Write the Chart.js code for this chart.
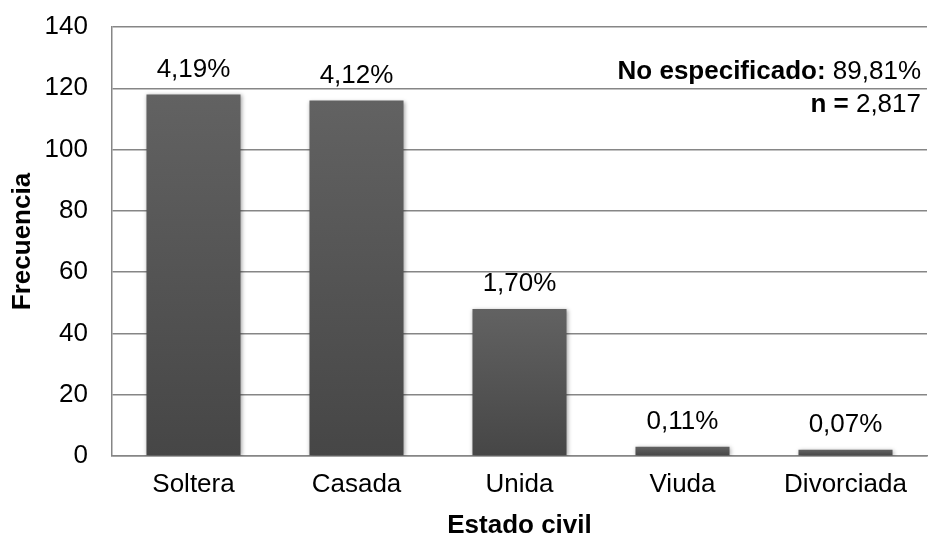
<!DOCTYPE html>
<html>
<head>
<meta charset="utf-8">
<script src="https://cdn.jsdelivr.net/npm/chart.js@4.4.0/dist/chart.umd.min.js"></script>
<style>
  html, body { margin: 0; background: #fff; }
  #contenedor { width: 930px; height: 536px; }
</style>
</head>
<body>
<div id="contenedor"><canvas id="myChart"></canvas></div>
<script>
const categorias = ['Soltera', 'Casada', 'Unida', 'Viuda', 'Divorciada']
const frecuencias = [118, 116, 48, 3, 2]
const porcentajes = ['4,19%', '4,12%', '1,70%', '0,11%', '0,07%']
const notaNoEspecificado = ['No especificado:', '89,81%']
const notaN = ['n =', '2,817']

const fuente = 'Arial, "Liberation Sans", sans-serif'
const colorGrid = '#868686'

// degradado de cada barra: mas claro arriba, mas oscuro abajo
const colorBarra = (ctx) => {
    const chart = ctx.chart
    if (!chart.chartArea || !chart.scales.y) return '#555'
    const yTop = chart.scales.y.getPixelForValue(ctx.raw)
    const yBase = chart.scales.y.getPixelForValue(0)
    const g = chart.ctx.createLinearGradient(0, yTop, 0, yBase)
    g.addColorStop(0, '#626262')
    g.addColorStop(1, '#464646')
    return g
}

// sombra suave de las barras
const sombra = {
    id: 'sombra',
    beforeDatasetsDraw(chart) {
        const c = chart.ctx
        c.save()
        c.shadowColor = 'rgba(0,0,0,0.35)'
        c.shadowBlur = 4
        c.shadowOffsetX = 1
        c.shadowOffsetY = 1
    },
    afterDatasetsDraw(chart) {
        chart.ctx.restore()
    }
}

// porcentajes encima de cada barra
const etiquetas = {
    id: 'etiquetas',
    afterDraw(chart) {
        const c = chart.ctx
        const meta = chart.getDatasetMeta(0)
        c.save()
        c.font = '26px ' + fuente
        c.fillStyle = '#000'
        c.textAlign = 'center'
        c.textBaseline = 'middle'
        meta.data.forEach((bar, i) => {
            c.fillText(porcentajes[i], bar.x, bar.y - 25)
        })
        c.restore()
    }
}

// nota arriba a la derecha
const nota = {
    id: 'nota',
    afterDraw(chart) {
        const c = chart.ctx
        const xDer = 921
        const lineas = [[notaNoEspecificado, 72], [notaN, 105]]
        c.save()
        c.fillStyle = '#000'
        c.textBaseline = 'middle'
        c.textAlign = 'left'
        lineas.forEach(([partes, y]) => {
            c.font = 'bold 26px ' + fuente
            const anchoNegrita = c.measureText(partes[0] + ' ').width
            c.font = '26px ' + fuente
            const anchoNormal = c.measureText(partes[1]).width
            const x0 = xDer - anchoNegrita - anchoNormal
            c.font = 'bold 26px ' + fuente
            c.fillText(partes[0] + ' ', x0, y)
            c.font = '26px ' + fuente
            c.fillText(partes[1], x0 + anchoNegrita, y)
        })
        c.restore()
    }
}

const myChart = document.getElementById('myChart')
new Chart(myChart, {
    type: 'bar',
    data: {
        labels: categorias,
        datasets: [{
            label: 'Frecuencia',
            data: frecuencias,
            backgroundColor: colorBarra,
            borderWidth: 0,
            barPercentage: 0.577,
            categoryPercentage: 1
        }]
    },
    options: {
        responsive: true,
        maintainAspectRatio: false,
        animation: false,
        layout: { padding: { top: 0, right: 3, left: 0, bottom: 0 } },
        plugins: {
            legend: { display: false },
            tooltip: { enabled: false }
        },
        scales: {
            x: {
                afterFit: (scale) => { scale.height = 80 },
                grid: { display: false, drawTicks: false },
                border: { display: true, color: colorGrid, width: 1.5 },
                ticks: { color: '#000', font: { family: fuente, size: 26 }, padding: 13 },
                title: {
                    display: true,
                    text: 'Estado civil',
                    color: '#000',
                    font: { family: fuente, size: 26, weight: 'bold', lineHeight: 0.8 },
                    padding: { top: 0, bottom: 0 }
                }
            },
            y: {
                min: 0,
                max: 140,
                afterFit: (scale) => {
                    scale.width = 112
                    scale.paddingTop = 27
                    scale.paddingBottom = 0
                },
                grid: { color: colorGrid, lineWidth: 1.5, drawTicks: false },
                border: { display: true, color: colorGrid, width: 1.5 },
                ticks: { stepSize: 20, color: '#000', font: { family: fuente, size: 26 }, padding: 24 },
                title: {
                    display: true,
                    text: 'Frecuencia',
                    color: '#000',
                    font: { family: fuente, size: 26, weight: 'bold', lineHeight: 1.2 },
                    padding: { top: 7, bottom: 0 }
                }
            }
        }
    },
    plugins: [sombra, etiquetas, nota]
})
</script>
</body>
</html>
